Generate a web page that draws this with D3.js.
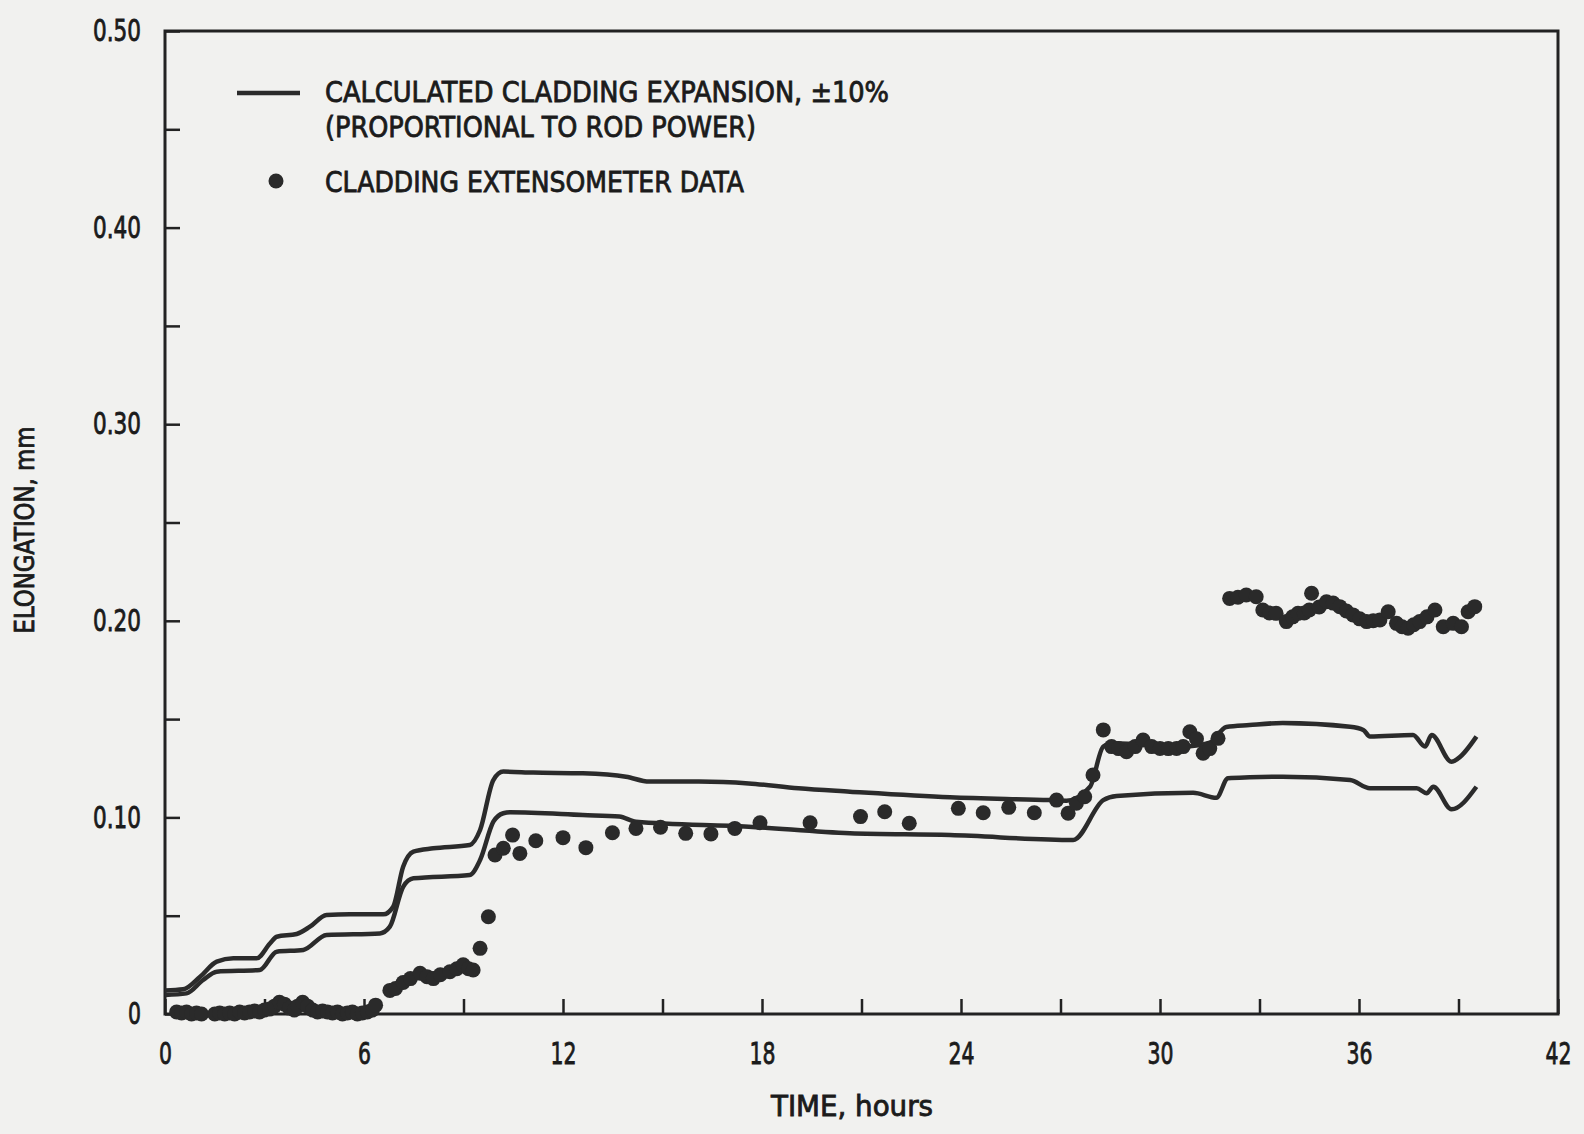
<!DOCTYPE html>
<html>
<head>
<meta charset="utf-8">
<script src="https://cdn.jsdelivr.net/npm/d3@7"></script>
<style>
  html, body { margin: 0; padding: 0; background: #f1f1ef; }
  svg { display: block; }
  text { font-family: "Liberation Sans Narrow", "DejaVu Sans Condensed", "Arial Narrow", sans-serif; fill: #1b1b1b; stroke: #1b1b1b; stroke-width: 0.8; }
</style>
</head>
<body>
<svg id="chart" width="1584" height="1134"></svg>
<script>
// ---------------- DATA ----------------
const xTicks = [0, 3, 6, 9, 12, 15, 18, 21, 24, 27, 30, 33, 36, 39, 42];
const xTickLabels = ["0", "", "6", "", "12", "", "18", "", "24", "", "30", "", "36", "", "42"];
const yTicks = [0, 0.05, 0.10, 0.15, 0.20, 0.25, 0.30, 0.35, 0.40, 0.45, 0.50];
const yTickLabels = ["0", "", "0.10", "", "0.20", "", "0.30", "", "0.40", "", "0.50"];

const xTitle = "TIME, hours";
const yTitle = "ELONGATION, mm";
const legendLineText = ["CALCULATED CLADDING EXPANSION, \u00b110%", "(PROPORTIONAL TO ROD POWER)"];
const legendDotText = "CLADDING EXTENSOMETER DATA";

// calculated expansion +10% (upper band)
const upperTime = [0, 0.55, 1.06, 1.56, 2.06, 2.76, 3.17, 3.37, 3.97, 4.37, 4.87, 5.58, 6.58, 6.88, 7.18, 7.49, 8.09, 9.19, 9.5, 9.9, 10.2, 11.1, 12.6, 13.9, 14.6, 16.1, 17.6, 19.1, 20.65, 23.67, 26.68, 27.18, 27.89, 28.29, 28.59, 30.7, 31.5, 32.0, 32.7, 33.7, 35.73, 36.13, 36.33, 37.63, 37.99, 38.19, 38.79, 38.99, 39.54];
const upperValue = [0.012, 0.0126, 0.019, 0.0266, 0.0283, 0.0283, 0.036, 0.0393, 0.0407, 0.0444, 0.0504, 0.0507, 0.0507, 0.0546, 0.0749, 0.0826, 0.0843, 0.086, 0.0936, 0.119, 0.1233, 0.1228, 0.1224, 0.1207, 0.1182, 0.1182, 0.1173, 0.1148, 0.1131, 0.1102, 0.1088, 0.1085, 0.1156, 0.136, 0.1377, 0.136, 0.138, 0.146, 0.147, 0.148, 0.1461, 0.1445, 0.1411, 0.1419, 0.136, 0.1419, 0.1283, 0.130, 0.1411];

// calculated expansion -10% (lower band)
const lowerTime = [0, 0.65, 1.15, 1.56, 2.86, 3.37, 4.17, 4.87, 6.48, 6.78, 7.18, 7.49, 9.19, 9.5, 9.9, 10.2, 10.4, 12.6, 13.7, 14.2, 17.6, 20.65, 23.67, 27.38, 28.29, 28.69, 31.0, 31.7, 32.05, 32.7, 33.7, 35.73, 36.33, 37.74, 38.04, 38.24, 38.79, 39.54];
const lowerValue = [0.0097, 0.0105, 0.0173, 0.0215, 0.0224, 0.0317, 0.0326, 0.0402, 0.041, 0.0444, 0.0647, 0.069, 0.0707, 0.0783, 0.0978, 0.1021, 0.1026, 0.1012, 0.1004, 0.0978, 0.0953, 0.0919, 0.091, 0.0885, 0.1088, 0.1109, 0.1125, 0.1100, 0.1199, 0.1204, 0.1207, 0.119, 0.1148, 0.1148, 0.1123, 0.1156, 0.1041, 0.1156];

// cladding extensometer data
const dataTime = [0.35, 0.5, 0.65, 0.8, 0.95, 1.1, 1.5, 1.65, 1.8, 1.95, 2.1, 2.25, 2.4, 2.55, 2.7, 2.85, 3.0, 3.15, 3.3, 3.45, 3.6, 3.75, 3.9, 4.0, 4.15, 4.3, 4.45, 4.6, 4.75, 4.9, 5.05, 5.2, 5.35, 5.5, 5.65, 5.8, 5.95, 6.1, 6.25, 6.35,
  6.78, 6.95, 7.18, 7.4, 7.69, 7.9, 8.09, 8.3, 8.59, 8.8, 8.99, 9.15, 9.29, 9.5, 9.75, 9.95, 10.2, 10.48, 10.7, 11.18, 12.0, 12.69, 13.49, 14.2, 14.94, 15.7, 16.46, 17.18, 17.94, 19.45,
  20.97, 21.7, 22.44, 23.92, 24.67, 25.44, 26.21, 26.88, 27.23, 27.48, 27.73, 27.98, 28.29, 28.54, 28.75, 28.99, 29.25, 29.49, 29.75, 30.0, 30.25, 30.5, 30.7, 30.9, 31.1, 31.3, 31.5, 31.75,
  32.1, 32.35, 32.6, 32.9, 33.1, 33.3, 33.5, 33.81, 34.0, 34.16, 34.35, 34.57, 34.5, 34.8, 35.02, 35.22, 35.42, 35.62, 35.82, 36.02, 36.23, 36.43, 36.63, 36.88, 37.13, 37.3, 37.48, 37.65, 37.83, 38.05, 38.29, 38.54, 38.84, 39.09, 39.29, 39.49];
const dataValue = [0.001, 0.0005, 0.001, 0.0, 0.0005, 0.0, 0.0, 0.0005, 0.0, 0.0005, 0.0, 0.001, 0.0005, 0.001, 0.0015, 0.001, 0.002, 0.0025, 0.004, 0.006, 0.005, 0.003, 0.002, 0.004, 0.006, 0.004, 0.002, 0.001, 0.0015, 0.001, 0.0005, 0.001, 0.0, 0.0005, 0.001, 0.0, 0.0005, 0.001, 0.002, 0.0045,
  0.012, 0.013, 0.016, 0.018, 0.0207, 0.019, 0.018, 0.02, 0.0215, 0.023, 0.025, 0.023, 0.0224, 0.0334, 0.0495, 0.0809, 0.0843, 0.091, 0.0817, 0.0881, 0.0897, 0.0846, 0.0922, 0.0944, 0.095, 0.0919, 0.0916, 0.0944, 0.0973, 0.0973,
  0.1004, 0.1029, 0.097, 0.1046, 0.1024, 0.1051, 0.1024, 0.1088, 0.1021, 0.1072, 0.1105, 0.1216, 0.1445, 0.136, 0.135, 0.1334, 0.136, 0.1394, 0.136, 0.1351, 0.135, 0.1351, 0.136, 0.1436, 0.14, 0.1326, 0.135, 0.1402,
  0.2114, 0.212, 0.2131, 0.2122, 0.2055, 0.204, 0.2038, 0.1996, 0.202, 0.2038, 0.204, 0.214, 0.2055, 0.207, 0.2097, 0.209, 0.2072, 0.205, 0.203, 0.201, 0.1996, 0.2, 0.2004, 0.2046, 0.1987, 0.197, 0.1962, 0.198, 0.1996, 0.202, 0.2055, 0.197, 0.1987, 0.197, 0.2046, 0.2072];

// ---------------- CHART ----------------
const svg = d3.select("#chart");
const ink = "#222";
const x = d3.scaleLinear().domain([0, 42]).range([165, 1558]);
const y = d3.scaleLinear().domain([0, 0.5]).range([1014, 31]);

// condensed width for numeric labels
const numWidth = s => s.replace(/[^0-9]/g, "").length * 13 + s.replace(/[^.]/g, "").length * 9;

// frame
svg.append("rect")
  .attr("x", x(0)).attr("y", y(0.5))
  .attr("width", x(42) - x(0)).attr("height", y(0) - y(0.5))
  .attr("fill", "none").attr("stroke", ink).attr("stroke-width", 3);

// x axis
const xAxis = d3.axisBottom(x)
  .tickValues(xTicks)
  .tickSizeInner(-15).tickSizeOuter(0).tickPadding(28)
  .tickFormat((d, i) => xTickLabels[i]);
const gx = svg.append("g").attr("transform", `translate(0,${y(0)})`).call(xAxis);
gx.attr("font-family", null).attr("font-size", null);
gx.select(".domain").remove();
gx.selectAll(".tick line").attr("stroke", ink).attr("stroke-width", 2.5);
gx.selectAll(".tick text").attr("font-size", 31).attr("fill", null)
  .filter(function () { return this.textContent !== ""; })
  .attr("textLength", function () { return numWidth(this.textContent); })
  .attr("lengthAdjust", "spacingAndGlyphs");

// y axis
const yAxis = d3.axisLeft(y)
  .tickValues(yTicks)
  .tickSizeInner(-15).tickSizeOuter(0).tickPadding(24)
  .tickFormat((d, i) => yTickLabels[i]);
const gy = svg.append("g").attr("transform", `translate(${x(0)},0)`).call(yAxis);
gy.attr("font-family", null).attr("font-size", null);
gy.select(".domain").remove();
gy.selectAll(".tick line").attr("stroke", ink).attr("stroke-width", 2.5);
gy.selectAll(".tick text").attr("font-size", 30).attr("fill", null)
  .filter(function () { return this.textContent !== ""; })
  .attr("textLength", function () { return numWidth(this.textContent); })
  .attr("lengthAdjust", "spacingAndGlyphs");

// titles
svg.append("text")
  .attr("x", 852).attr("y", 1116)
  .attr("text-anchor", "middle")
  .attr("font-size", 28)
  .attr("textLength", 162).attr("lengthAdjust", "spacingAndGlyphs")
  .text(xTitle);
svg.append("text")
  .attr("transform", "translate(34,530) rotate(-90)")
  .attr("text-anchor", "middle")
  .attr("font-size", 27)
  .attr("textLength", 207).attr("lengthAdjust", "spacingAndGlyphs")
  .text(yTitle);

// lines
const line = d3.line().x(d => x(d[0])).y(d => y(d[1])).curve(d3.curveMonotoneX);
const upper = upperTime.map((t, i) => [t, upperValue[i]]);
const lower = lowerTime.map((t, i) => [t, lowerValue[i]]);
[upper, lower].forEach(series => {
  svg.append("path")
    .datum(series)
    .attr("d", line)
    .attr("fill", "none")
    .attr("stroke", "#2b2b2b")
    .attr("stroke-width", 4.5)
    .attr("stroke-linejoin", "round");
});

// data points
const pts = dataTime.map((t, i) => [t, dataValue[i]]);
svg.append("g").selectAll("circle")
  .data(pts).join("circle")
  .attr("cx", d => x(d[0])).attr("cy", d => y(d[1]))
  .attr("r", 7.5)
  .attr("fill", "#2a2a2a");

// legend
const lg = svg.append("g");
lg.append("line")
  .attr("x1", 237).attr("x2", 300).attr("y1", 93).attr("y2", 93)
  .attr("stroke", "#2b2b2b").attr("stroke-width", 4.5);
lg.append("text").attr("x", 325).attr("y", 102).attr("font-size", 29)
  .attr("textLength", 564).attr("lengthAdjust", "spacingAndGlyphs").text(legendLineText[0]);
lg.append("text").attr("x", 325).attr("y", 137).attr("font-size", 29)
  .attr("textLength", 431).attr("lengthAdjust", "spacingAndGlyphs").text(legendLineText[1]);
lg.append("circle").attr("cx", 276).attr("cy", 181).attr("r", 7.5).attr("fill", "#2a2a2a");
lg.append("text").attr("x", 325).attr("y", 192).attr("font-size", 29)
  .attr("textLength", 419).attr("lengthAdjust", "spacingAndGlyphs").text(legendDotText);
</script>
</body>
</html>
